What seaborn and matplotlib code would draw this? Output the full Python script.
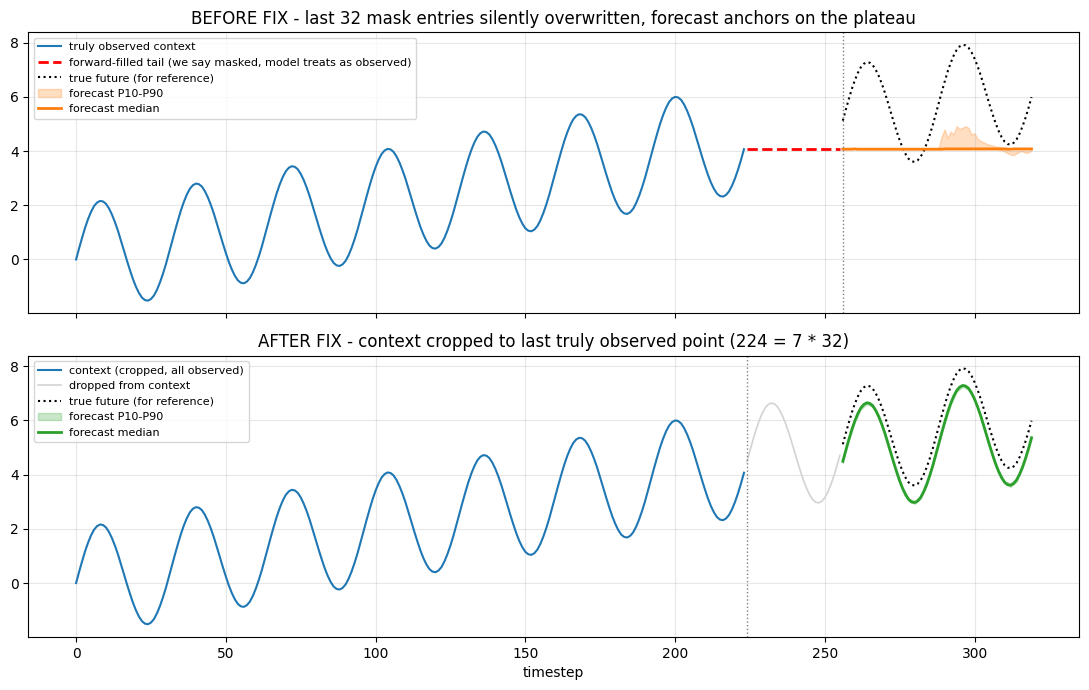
import numpy as np
import matplotlib
matplotlib.use("Agg")
import matplotlib.pyplot as plt
import seaborn as sns

# full series, one value per timestep, one row per 32-step cycle
sig_c0 = [0.00, 0.41, 0.80, 1.17, 1.49, 1.76, 1.97, 2.10, 2.16, 2.14, 2.05, 1.88, 1.65, 1.37, 1.05, 0.69,
          0.32, -0.05, -0.40, -0.73, -1.01, -1.24, -1.41, -1.50, -1.52, -1.46, -1.33, -1.12, -0.85, -0.53, -0.17, 0.23]
sig_c1 = [0.64, 1.05, 1.44, 1.81, 2.13, 2.40, 2.61, 2.74, 2.80, 2.78, 2.69, 2.52, 2.29, 2.01, 1.69, 1.33,
          0.96, 0.59, 0.24, -0.09, -0.37, -0.60, -0.77, -0.86, -0.88, -0.82, -0.69, -0.48, -0.21, 0.11, 0.47, 0.87]
sig_c2 = [1.28, 1.69, 2.08, 2.45, 2.77, 3.04, 3.25, 3.38, 3.44, 3.42, 3.33, 3.16, 2.93, 2.65, 2.33, 1.97,
          1.60, 1.23, 0.88, 0.55, 0.27, 0.04, -0.13, -0.22, -0.24, -0.18, -0.05, 0.16, 0.43, 0.75, 1.11, 1.51]
sig_c3 = [1.92, 2.33, 2.72, 3.09, 3.41, 3.68, 3.89, 4.02, 4.08, 4.06, 3.97, 3.80, 3.57, 3.29, 2.97, 2.61,
          2.24, 1.87, 1.52, 1.19, 0.91, 0.68, 0.51, 0.42, 0.40, 0.46, 0.59, 0.80, 1.07, 1.39, 1.75, 2.15]
sig_c4 = [2.56, 2.97, 3.36, 3.73, 4.05, 4.32, 4.53, 4.66, 4.72, 4.70, 4.61, 4.44, 4.21, 3.93, 3.61, 3.25,
          2.88, 2.51, 2.16, 1.83, 1.55, 1.32, 1.15, 1.06, 1.04, 1.10, 1.23, 1.44, 1.71, 2.03, 2.39, 2.79]
sig_c5 = [3.20, 3.61, 4.00, 4.37, 4.69, 4.96, 5.17, 5.30, 5.36, 5.34, 5.25, 5.08, 4.85, 4.57, 4.25, 3.89,
          3.52, 3.15, 2.80, 2.47, 2.19, 1.96, 1.79, 1.70, 1.68, 1.74, 1.87, 2.08, 2.35, 2.67, 3.03, 3.43]
sig_c6 = [3.84, 4.25, 4.64, 5.01, 5.33, 5.60, 5.81, 5.94, 6.00, 5.98, 5.89, 5.72, 5.49, 5.21, 4.89, 4.53,
          4.16, 3.79, 3.44, 3.11, 2.83, 2.60, 2.43, 2.34, 2.32, 2.38, 2.51, 2.72, 2.99, 3.31, 3.67, 4.07]
sig_c7 = [4.48, 4.89, 5.28, 5.65, 5.97, 6.24, 6.45, 6.58, 6.64, 6.62, 6.53, 6.36, 6.13, 5.85, 5.53, 5.17,
          4.80, 4.43, 4.08, 3.75, 3.47, 3.24, 3.07, 2.98, 2.96, 3.02, 3.15, 3.36, 3.63, 3.95, 4.31, 4.71]
sig_c8 = [5.12, 5.53, 5.92, 6.29, 6.61, 6.88, 7.09, 7.22, 7.28, 7.26, 7.17, 7.00, 6.77, 6.49, 6.17, 5.81,
          5.44, 5.07, 4.72, 4.39, 4.11, 3.88, 3.71, 3.62, 3.60, 3.66, 3.79, 4.00, 4.27, 4.59, 4.95, 5.35]
sig_c9 = [5.76, 6.17, 6.56, 6.93, 7.25, 7.52, 7.73, 7.86, 7.92, 7.90, 7.81, 7.64, 7.41, 7.13, 6.81, 6.45,
          6.08, 5.71, 5.36, 5.03, 4.75, 4.52, 4.35, 4.26, 4.24, 4.30, 4.43, 4.64, 4.91, 5.23, 5.59, 5.99]

ctx_vals = sig_c0 + sig_c1 + sig_c2 + sig_c3 + sig_c4 + sig_c5 + sig_c6   # t 0..223
tail_vals = sig_c7                                                         # t 224..255
fut_vals = sig_c8 + sig_c9                                                 # t 256..319
ctx_t = np.arange(0, 224)
tail_t = np.arange(224, 256)
fut_t = np.arange(256, 320)

ffill_t = [224, 255]
ffill_vals = [4.07, 4.07]

# BEFORE fix forecast, t 256..319
med_before = [
    4.07, 4.07, 4.07, 4.07, 4.08, 4.07, 4.07, 4.07, 4.07, 4.07, 4.07, 4.07, 4.07, 4.07, 4.07, 4.07,
    4.07, 4.07, 4.07, 4.07, 4.07, 4.07, 4.07, 4.07, 4.07, 4.07, 4.07, 4.07, 4.07, 4.07, 4.07, 4.07,
    4.07, 4.07, 4.08, 4.08, 4.08, 4.08, 4.08, 4.08, 4.08, 4.08, 4.08, 4.08, 4.08, 4.08, 4.08, 4.08,
    4.08, 4.08, 4.08, 4.08, 4.08, 4.08, 4.08, 4.07, 4.07, 4.08, 4.08, 4.08, 4.08, 4.08, 4.08, 4.08,
]
p10_before = [
    4.06, 4.06, 4.06, 4.06, 4.06, 4.06, 4.06, 4.06, 4.06, 4.06, 4.06, 4.06, 4.06, 4.06, 4.06, 4.06,
    4.06, 4.06, 4.06, 4.06, 4.06, 4.06, 4.06, 4.06, 4.06, 4.06, 4.06, 4.06, 4.06, 4.06, 4.06, 4.06,
    4.06, 4.06, 4.06, 4.06, 4.06, 4.06, 4.06, 4.06, 4.06, 4.06, 4.06, 4.06, 4.06, 4.06, 4.06, 4.06,
    4.06, 4.06, 4.06, 4.06, 4.05, 4.03, 3.98, 3.92, 3.87, 3.85, 3.91, 3.98, 3.99, 3.93, 3.95, 4.02,
]
p90_before = [
    4.09, 4.09, 4.09, 4.09, 4.09, 4.09, 4.09, 4.09, 4.09, 4.09, 4.09, 4.09, 4.09, 4.09, 4.09, 4.09,
    4.09, 4.09, 4.09, 4.09, 4.09, 4.09, 4.09, 4.09, 4.09, 4.09, 4.09, 4.09, 4.09, 4.09, 4.10, 4.10,
    4.12, 4.55, 4.80, 4.48, 4.72, 4.62, 4.92, 4.82, 4.86, 4.92, 4.85, 4.60, 4.66, 4.45, 4.38, 4.32,
    4.27, 4.23, 4.20, 4.17, 4.15, 4.13, 4.12, 4.11, 4.10, 4.10, 4.10, 4.10, 4.10, 4.10, 4.10, 4.10,
]

# AFTER fix forecast, t 256..319
med_after = [
    4.49, 4.90, 5.29, 5.66, 5.98, 6.25, 6.46, 6.59, 6.65, 6.63, 6.54, 6.37, 6.14, 5.86, 5.54, 5.18,
    4.81, 4.44, 4.09, 3.76, 3.48, 3.25, 3.08, 2.99, 2.97, 3.03, 3.16, 3.37, 3.64, 3.96, 4.32, 4.72,
    5.13, 5.54, 5.93, 6.30, 6.62, 6.89, 7.10, 7.23, 7.29, 7.27, 7.18, 7.01, 6.78, 6.50, 6.18, 5.82,
    5.45, 5.08, 4.73, 4.40, 4.12, 3.89, 3.72, 3.63, 3.61, 3.67, 3.80, 4.01, 4.28, 4.60, 4.96, 5.36,
]
# band is very thin, read every 2 steps
band_t = list(range(256, 320, 2)) + [319]
p10_after = [
    4.44, 5.25, 5.93, 6.41, 6.60, 6.49, 6.09, 5.49, 4.76, 4.03, 3.43, 3.03, 2.92, 3.11, 3.59, 4.27,
    5.08, 5.89, 6.57, 7.05, 7.24, 7.13, 6.73, 6.13, 5.40, 4.67, 4.07, 3.67, 3.55, 3.74, 4.23, 4.91,
    5.32,
]
p90_after = [
    4.54, 5.35, 6.03, 6.51, 6.70, 6.59, 6.19, 5.59, 4.86, 4.13, 3.53, 3.13, 3.02, 3.21, 3.69, 4.37,
    5.18, 5.99, 6.67, 7.15, 7.34, 7.23, 6.83, 6.23, 5.50, 4.77, 4.17, 3.77, 3.67, 3.86, 4.33, 5.01,
    5.42,
]

fig, axes = plt.subplots(2, 1, figsize=(10.89, 6.9), dpi=100, sharex=True)

# before fix
ax = axes[0]
sns.lineplot(x=ctx_t, y=ctx_vals, ax=ax, color="C0", lw=1.5, label="truly observed context")
sns.lineplot(x=ffill_t, y=ffill_vals, ax=ax, color="red", lw=2, linestyle="--",
             label="forward-filled tail (we say masked, model treats as observed)")
sns.lineplot(x=fut_t, y=fut_vals, ax=ax, color="black", lw=1.5, linestyle=":",
             label="true future (for reference)")
ax.fill_between(fut_t, p10_before, p90_before, color="C1", alpha=0.25,
                label="forecast P10-P90")
sns.lineplot(x=fut_t, y=med_before, ax=ax, color="C1", lw=2, label="forecast median")
ax.axvline(256, color="gray", linestyle=":", lw=1)
ax.set_title("BEFORE FIX - last 32 mask entries silently overwritten, forecast anchors on the plateau")
ax.legend(loc="upper left", fontsize=8)
ax.grid(alpha=0.3)
ax.set_ylabel("")

# after fix
ax = axes[1]
sns.lineplot(x=ctx_t, y=ctx_vals, ax=ax, color="C0", lw=1.5, label="context (cropped, all observed)")
sns.lineplot(x=tail_t, y=tail_vals, ax=ax, color="lightgray", lw=1.2, label="dropped from context")
sns.lineplot(x=fut_t, y=fut_vals, ax=ax, color="black", lw=1.5, linestyle=":",
             label="true future (for reference)")
ax.fill_between(band_t, p10_after, p90_after, color="C2", alpha=0.25,
                label="forecast P10-P90")
sns.lineplot(x=fut_t, y=med_after, ax=ax, color="C2", lw=2, label="forecast median")
ax.axvline(224, color="gray", linestyle=":", lw=1)
ax.set_title("AFTER FIX - context cropped to last truly observed point (224 = 7 * 32)")
ax.legend(loc="upper left", fontsize=8)
ax.grid(alpha=0.3)
ax.set_xlabel("timestep")
ax.set_ylabel("")

plt.tight_layout(pad=0.7, h_pad=1.08)
plt.savefig("out.png")
